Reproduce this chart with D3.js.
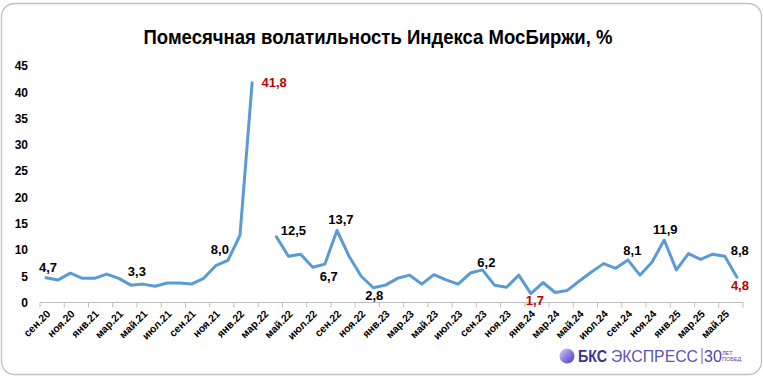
<!DOCTYPE html>
<html>
<head>
<meta charset="utf-8">
<script src="https://cdn.jsdelivr.net/npm/d3@7"></script>
<style>
  body { margin: 0; background: #fff; }
  svg { display: block; font-family: "Liberation Sans", Arial, sans-serif; }
  .ylab, .xlab { font-weight: bold; fill: #000; }
</style>
</head>
<body>
<svg class="vol-chart" width="763" height="376"></svg>
<script>
/**********************
 Data
**********************/
var months = ["сен.20","окт.20","ноя.20","дек.20","янв.21","фев.21","мар.21","апр.21","май.21","июн.21",
  "июл.21","авг.21","сен.21","окт.21","ноя.21","дек.21","янв.22","фев.22","мар.22","апр.22",
  "май.22","июн.22","июл.22","авг.22","сен.22","окт.22","ноя.22","дек.22","янв.23","фев.23",
  "мар.23","апр.23","май.23","июн.23","июл.23","авг.23","сен.23","окт.23","ноя.23","дек.23",
  "янв.24","фев.24","мар.24","апр.24","май.24","июн.24","июл.24","авг.24","сен.24","окт.24",
  "ноя.24","дек.24","янв.25","фев.25","мар.25","апр.25","май.25","июн.25"];

// monthly volatility, % (null = no trading, март 2022)
var volatility = [4.7,4.3,5.6,4.6,4.6,5.4,4.6,3.3,3.5,3.1,
  3.7,3.7,3.5,4.6,7.0,8.0,12.8,41.8,null,12.5,
  8.8,9.2,6.7,7.3,13.7,8.8,5.0,2.8,3.3,4.6,
  5.2,3.5,5.3,4.3,3.5,5.6,6.2,3.3,2.9,5.2,
  1.7,3.8,1.9,2.3,4.1,5.8,7.4,6.5,8.1,5.2,
  7.7,11.9,6.2,9.3,8.2,9.2,8.8,4.8];

var yTicks = [0,5,10,15,20,25,30,35,40,45];

// which points get a value label, and which of them are highlighted
var labelled = [0,7,15,17,19,22,24,27,36,40,48,51,56,57];
var highlighted = [17,40,57];

var titleText = "Помесячная волатильность Индекса МосБиржи, %";

/**********************
 Layout
**********************/
var svg = d3.select('svg.vol-chart');
var W = +svg.attr('width'), H = +svg.attr('height');

var plot = {l: 40, r: 743, t: 66, b: 302.5};

var xScale = d3.scaleBand().domain(d3.range(months.length)).range([plot.l, plot.r]).padding(0);
var yScale = d3.scaleLinear().domain([0, 45]).range([plot.b, plot.t]);

// frame
svg.append('rect')
  .attr('x', 1.5).attr('y', 3.5)
  .attr('width', W - 3).attr('height', H - 5)
  .attr('rx', 13).attr('ry', 13)
  .attr('fill', '#fff')
  .attr('stroke', '#c0c0c0')
  .attr('stroke-width', 1.3);

// title
svg.append('text')
  .attr('x', 378).attr('y', 44)
  .attr('text-anchor', 'middle')
  .attr('textLength', 469)
  .attr('lengthAdjust', 'spacingAndGlyphs')
  .style('font-family', '"Liberation Sans Narrow", "Arial Narrow", "Liberation Sans", sans-serif')
  .style('font-weight', 'bold')
  .style('font-size', '20px')
  .text(titleText);

/**********************
 Axes
**********************/
// y tick labels (no axis line, no grid)
svg.selectAll('.ylab')
  .data(yTicks)
  .enter().append('text')
  .attr('class', 'ylab')
  .attr('x', 28)
  .attr('y', function(d) { return yScale(d); })
  .attr('dy', '0.36em')
  .attr('text-anchor', 'end')
  .style('font-size', '12px')
  .text(function(d) { return d; });

// x axis line + ticks every 2 months
var xAxisG = svg.append('g');
xAxisG.append('line')
  .attr('x1', plot.l).attr('x2', plot.r)
  .attr('y1', plot.b).attr('y2', plot.b)
  .attr('stroke', '#bfbfbf').attr('stroke-width', 1);
var tickIdx = d3.range(0, months.length + 1, 2);
xAxisG.selectAll('.tick')
  .data(tickIdx)
  .enter().append('line')
  .attr('x1', function(i) { return plot.l + i * xScale.bandwidth(); })
  .attr('x2', function(i) { return plot.l + i * xScale.bandwidth(); })
  .attr('y1', plot.b).attr('y2', plot.b + 5)
  .attr('stroke', '#bfbfbf').attr('stroke-width', 1);

// rotated month labels on every second month
svg.selectAll('.xlab')
  .data(d3.range(0, months.length, 2))
  .enter().append('text')
  .attr('class', 'xlab')
  .attr('text-anchor', 'end')
  .style('font-size', '10.5px')
  .attr('transform', function(i) {
    var cx = xScale(i) + xScale.bandwidth() / 2;
    return 'translate(' + [cx + 5, plot.b + 12] + ') rotate(-45)';
  })
  .text(function(i) { return months[i]; });

/**********************
 Line
**********************/
var line = d3.line()
  .defined(function(d) { return d !== null; })
  .x(function(d, i) { return xScale(i) + xScale.bandwidth() / 2; })
  .y(function(d) { return yScale(d); });

svg.append('path')
  .datum(volatility)
  .attr('fill', 'none')
  .attr('stroke', '#5b9bd5')
  .attr('stroke-width', 3)
  .attr('stroke-linejoin', 'round')
  .attr('stroke-linecap', 'round')
  .attr('d', line);

/**********************
 Value labels
**********************/
// nudges so labels sit where the original put them
var nudge = {
  0: [2, -10], 7: [6, -13.5], 15: [-8, -11.5], 17: [22, 0], 19: [17, -6],
  22: [16, 9.5], 24: [4, -11.5], 27: [1, 8], 36: [4, -7.5], 40: [4, 6.5],
  48: [4.5, -10], 51: [1, -10.5], 56: [15, -6], 57: [3, 8]
};

svg.selectAll('.vlab')
  .data(labelled)
  .enter().append('text')
  .attr('class', 'vlab')
  .attr('x', function(i) { return xScale(i) + xScale.bandwidth() / 2 + nudge[i][0]; })
  .attr('y', function(i) { return yScale(volatility[i]) + nudge[i][1]; })
  .attr('dy', '0.36em')
  .attr('text-anchor', 'middle')
  .style('font-size', '13px')
  .style('font-weight', 'bold')
  .style('fill', function(i) { return highlighted.indexOf(i) >= 0 ? '#c00000' : '#000'; })
  .text(function(i) { return d3.format('.1f')(volatility[i]).replace('.', ','); });

/**********************
 Logo (bottom right)
**********************/
var defs = svg.append('defs');
var grad = defs.append('linearGradient').attr('id', 'logoGrad')
  .attr('x1', '0').attr('y1', '0').attr('x2', '1').attr('y2', '1');
grad.append('stop').attr('offset', '0%').attr('stop-color', '#d9d6f5');
grad.append('stop').attr('offset', '60%').attr('stop-color', '#7d6fe0');
grad.append('stop').attr('offset', '100%').attr('stop-color', '#4b3bb8');

var logo = svg.append('g');
logo.append('circle').attr('cx', 567).attr('cy', 356).attr('r', 7.5).attr('fill', 'url(#logoGrad)');
logo.append('text').attr('x', 578).attr('y', 362)
  .attr('textLength', 29).attr('lengthAdjust', 'spacingAndGlyphs')
  .style('font-size', '16px').style('font-weight', 'bold').style('fill', '#3b3592')
  .text('БКС');
logo.append('text').attr('x', 611).attr('y', 362)
  .attr('textLength', 87).attr('lengthAdjust', 'spacingAndGlyphs')
  .style('font-size', '16px').style('fill', '#5a54b4')
  .text('ЭКСПРЕСС');
logo.append('line').attr('x1', 702).attr('x2', 702).attr('y1', 348).attr('y2', 364)
  .attr('stroke', '#6a64c0').attr('stroke-width', 1);
logo.append('text').attr('x', 704).attr('y', 362)
  .style('font-size', '16px').style('fill', '#4c46a8')
  .text('30');
logo.append('text').attr('x', 722).attr('y', 354.5)
  .style('font-size', '5.5px').style('fill', '#4c46a8').text('ЛЕТ');
logo.append('text').attr('x', 722).attr('y', 361)
  .style('font-size', '5.5px').style('fill', '#4c46a8').text('ПОБЕД');
</script>
</body>
</html>
